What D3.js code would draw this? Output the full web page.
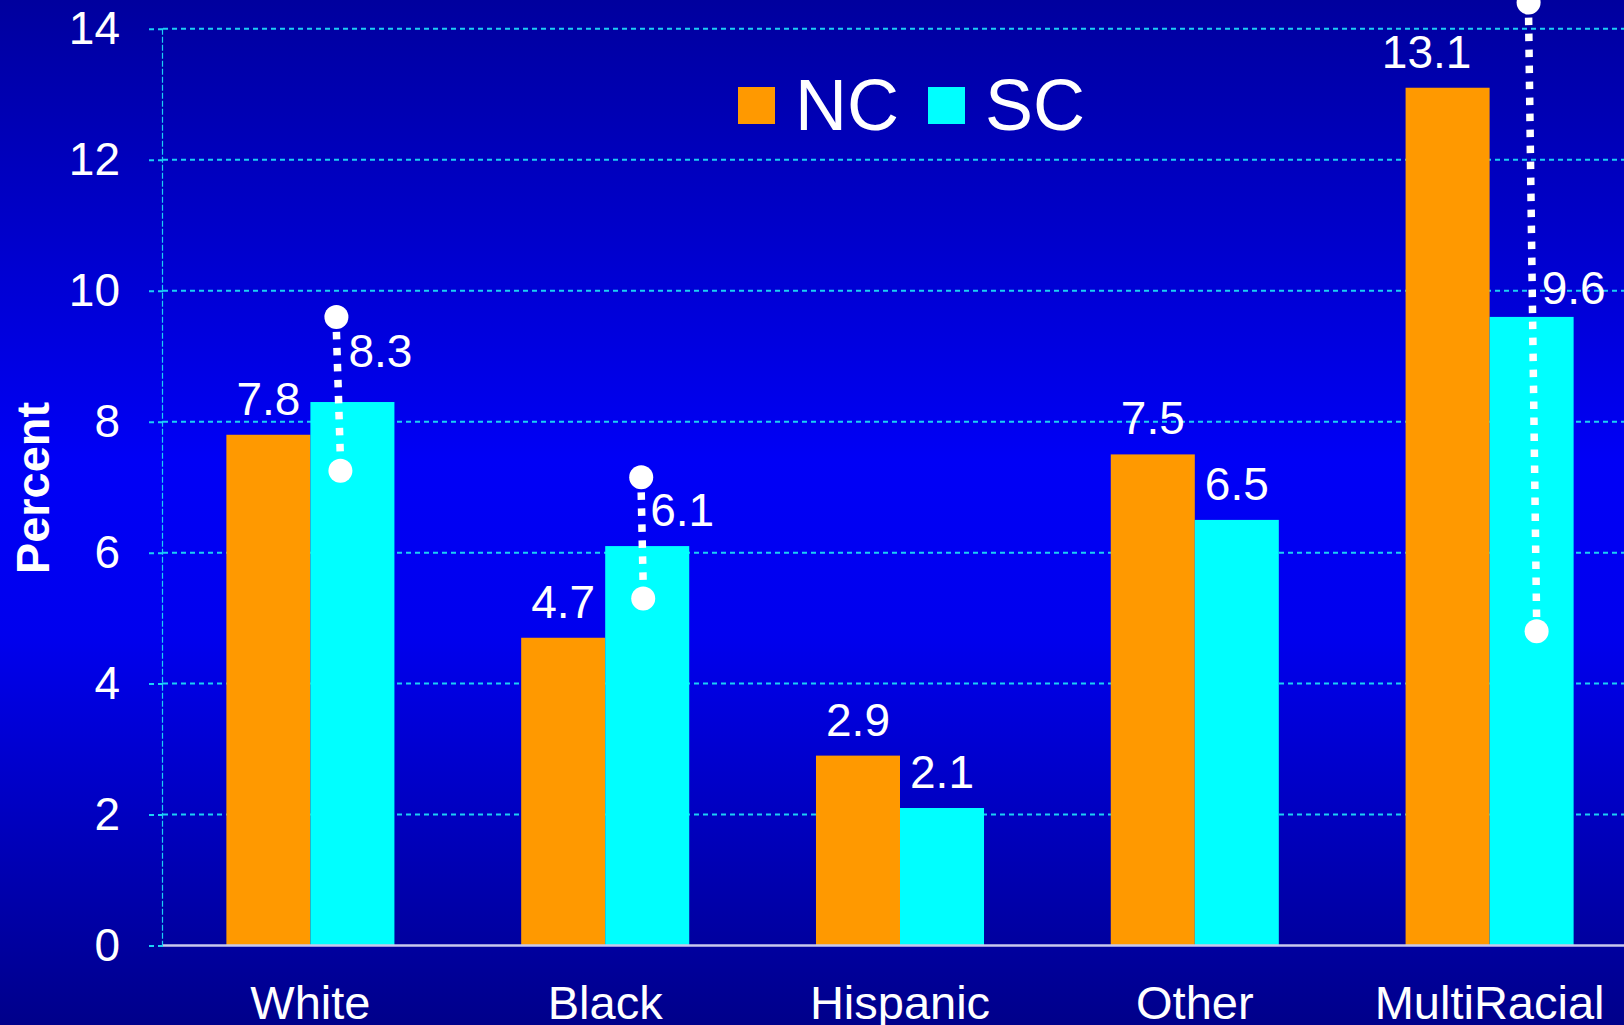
<!DOCTYPE html>
<html>
<head>
<meta charset="utf-8">
<script src="https://cdn.jsdelivr.net/npm/d3@7"></script>
<style>
  html, body { margin: 0; padding: 0; background: #0000a0; }
  svg { display: block; }
  text { font-family: "Liberation Sans", Arial, sans-serif; fill: #ffffff; }
</style>
</head>
<body>
<svg id="chart" width="1624" height="1025"></svg>
<script>
// ---- data ----
const categories = ["White", "Black", "Hispanic", "Other", "MultiRacial"];
const seriesNames = ["NC", "SC"];
const ncValues = [7.8, 4.7, 2.9, 7.5, 13.1];
const scValues = [8.3, 6.1, 2.1, 6.5, 9.6];
const scLow  = [7.25, 5.3, null, null, 4.8];
const scHigh = [9.6, 7.15, null, null, 14.4];
const yTicks = [0, 2, 4, 6, 8, 10, 12, 14];
const yTitle = "Percent";

// ---- layout / style ----
const W = 1624, H = 1025;
const colors = { NC: "#ff9900", SC: "#00ffff" };
const svg = d3.select("#chart");

// background gradient
const defs = svg.append("defs");
const grad = defs.append("linearGradient").attr("id", "bg")
  .attr("x1", 0).attr("y1", 0).attr("x2", 0).attr("y2", 1);
grad.append("stop").attr("offset", "0%").attr("stop-color", "#00009e");
grad.append("stop").attr("offset", "45%").attr("stop-color", "#0000f6");
grad.append("stop").attr("offset", "62%").attr("stop-color", "#0000ee");
grad.append("stop").attr("offset", "100%").attr("stop-color", "#00008a");
svg.append("rect").attr("width", W).attr("height", H).attr("fill", "url(#bg)");

const y = d3.scaleLinear().domain([0, 14]).range([945.5, 28.8]);
const x0 = d3.scaleBand().domain(categories).range([163, 1637])
  .paddingInner(0.43).paddingOuter(0.215);
const x1 = d3.scaleBand().domain(seriesNames).range([0, x0.bandwidth()]);

const gridColor = "#1ccff4";

// gridlines
svg.append("g").selectAll("line").data(yTicks.filter(d => d > 0)).join("line")
  .attr("x1", 163).attr("x2", W)
  .attr("y1", d => y(d)).attr("y2", d => y(d))
  .attr("stroke", gridColor).attr("stroke-width", 2)
  .attr("stroke-dasharray", "5,4");

// y axis
const yAxis = svg.append("g").attr("transform", "translate(163,0)")
  .call(d3.axisLeft(y).tickValues(yTicks).tickSize(15).tickPadding(28).tickFormat(d3.format("d")));
yAxis.select(".domain").remove();
yAxis.selectAll(".tick line").attr("stroke", gridColor).attr("stroke-width", 2).attr("stroke-dasharray", "5,4");
yAxis.selectAll(".tick text").attr("fill", "#fff").style("font-size", "46px")
  .style("font-family", '"Liberation Sans", Arial, sans-serif');

// vertical axis line
svg.append("line").attr("x1", 162.5).attr("x2", 162.5)
  .attr("y1", y(14)).attr("y2", y(0))
  .attr("stroke", gridColor).attr("stroke-width", 1.2).attr("stroke-dasharray", "6,2");

// bars
const rows = categories.map((c, i) => ({ cat: c, NC: ncValues[i], SC: scValues[i], lo: scLow[i], hi: scHigh[i] }));
const groups = svg.append("g").selectAll("g").data(rows).join("g")
  .attr("transform", d => `translate(${x0(d.cat)},0)`);
groups.selectAll("rect").data(d => seriesNames.map(s => ({ s, v: d[s] }))).join("rect")
  .attr("x", d => x1(d.s)).attr("width", x1.bandwidth())
  .attr("y", d => y(d.v)).attr("height", d => y(0) - y(d.v))
  .attr("fill", d => colors[d.s]);

// x axis line
svg.append("line").attr("x1", 163).attr("x2", W)
  .attr("y1", y(0)).attr("y2", y(0))
  .attr("stroke", "#c8c8ec").attr("stroke-width", 2.5);

// value labels (some nudged by hand in the original to clear the CI marks)
const labelNudge = {
  SC: { White: [28, -15], Black: [35, 0], MultiRacial: [42, 7] },
  NC: { MultiRacial: [-21, 0] }
};
const nudge = (s, c) => (labelNudge[s] && labelNudge[s][c]) || [0, 0];
groups.selectAll("text.val").data(d => seriesNames.map(s => ({ s, v: d[s], cat: d.cat }))).join("text")
  .attr("class", "val")
  .attr("text-anchor", "middle")
  .attr("x", d => x1(d.s) + x1.bandwidth() / 2 + nudge(d.s, d.cat)[0])
  .attr("y", d => y(d.v) - 20 + nudge(d.s, d.cat)[1])
  .style("font-size", "46px")
  .text(d => d3.format(".1f")(d.v));

// confidence interval annotations (SC)
const ciNudge = { White: [-16, -12], Black: [-6, -4], MultiRacial: [-3, 5] };
const ci = rows.filter(d => d.lo != null);
const ciG = svg.append("g");
ci.forEach(d => {
  const cx = x0(d.cat) + x1("SC") + x1.bandwidth() / 2;
  const n = ciNudge[d.cat] || [0, 0];
  const xt = cx + n[0], xb = cx + n[1];
  ciG.append("line")
    .attr("x1", xt).attr("y1", y(d.hi) + 15)
    .attr("x2", xb).attr("y2", y(d.lo) - 12)
    .attr("stroke", "#fff").attr("stroke-width", 7.5).attr("stroke-dasharray", "7.5,8.5");
  ciG.append("circle").attr("cx", xt).attr("cy", y(d.hi)).attr("r", 12).attr("fill", "#fff");
  ciG.append("circle").attr("cx", xb).attr("cy", y(d.lo)).attr("r", 12).attr("fill", "#fff");
});

// category labels
svg.append("g").selectAll("text").data(categories).join("text")
  .attr("x", d => x0(d) + x0.bandwidth() / 2)
  .attr("y", 1019)
  .attr("text-anchor", "middle")
  .style("font-size", "47px")
  .text(d => d);

// y title
svg.append("text")
  .attr("transform", "translate(49,488) rotate(-90)")
  .attr("text-anchor", "middle")
  .style("font-size", "47px").style("font-weight", "bold")
  .text(yTitle);

// legend
const legend = svg.append("g").attr("transform", "translate(738,87)");
const legX = { NC: 0, SC: 190 };
seriesNames.forEach(s => {
  legend.append("rect").attr("x", legX[s]).attr("y", 0).attr("width", 37).attr("height", 37).attr("fill", colors[s]);
  legend.append("text").attr("x", legX[s] + 57).attr("y", 43).style("font-size", "72px").text(s);
});
</script>
</body>
</html>
